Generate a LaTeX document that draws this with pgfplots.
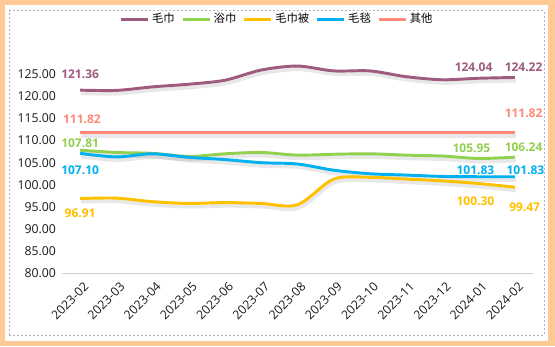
\documentclass[border=0pt]{standalone}
\usepackage{pgfplots}
\pgfplotsset{compat=1.18}
\usepackage{pgfplotstable}
\usepackage{fontspec}
\setmainfont{Open Sans}
\newfontfamily\cjk{Noto Sans CJK SC}
\definecolor{cMJ}{HTML}{9F5B7F}
\definecolor{cYJ}{HTML}{92D050}
\definecolor{cMJB}{HTML}{FFC000}
\definecolor{cMT}{HTML}{00B0F0}
\definecolor{cQT}{HTML}{FF8978}
\definecolor{frameor}{HTML}{FFC996}
\pgfplotstableread{
idx mj yj mjb mt qt
0 121.36 107.81 96.91 107.10 111.82
1 121.3 107.3 97.0 106.3 111.82
2 122.1 107.1 96.2 107.0 111.82
3 122.7 106.4 95.8 106.2 111.82
4 123.6 107.0 96.0 105.7 111.82
5 125.9 107.3 95.8 105.0 111.82
6 126.8 106.7 95.5 104.7 111.82
7 125.7 106.9 101.3 103.3 111.82
8 125.7 107.0 101.7 102.5 111.82
9 124.4 106.7 101.3 102.2 111.82
10 123.7 106.5 100.9 101.9 111.82
11 124.04 105.95 100.30 101.83 111.82
12 124.22 106.24 99.47 101.83 111.82
}\datatable
\begin{document}
\begin{tikzpicture}
% frame (px -> 0.75pt, y flipped)
\fill[frameor] (0pt,0pt) rectangle (416.25pt,259.5pt);
\fill[white] (3.75pt,3.75pt) rectangle (411pt,255.75pt);
\draw[black!30,dashed,line width=0.6pt,dash pattern=on 1.5pt off 1.5pt] (7.1pt,8.25pt) rectangle (408pt,251.55pt);
\begin{axis}[
  at={(46.5pt,54.375pt)}, anchor=south west,
  scale only axis, width=353.25pt, height=166.24pt,
  xmin=-0.5, xmax=12.5, ymin=80, ymax=130,
  clip=false,
  axis line style={draw=none},
  ytick={80,85,...,125},
  yticklabels={80.00,85.00,90.00,95.00,100.00,105.00,110.00,115.00,120.00,125.00},
  xtick={0,...,12},
  xticklabels={2023-02,2023-03,2023-04,2023-05,2023-06,2023-07,2023-08,2023-09,2023-10,2023-11,2023-12,2024-01,2024-02},
  x tick label style={anchor=east, xshift=7pt, yshift=-6pt, rotate=45, font=\fontsize{9.2pt}{10pt}\selectfont, text=black!90},
  y tick label style={font=\fontsize{9.2pt}{10pt}\selectfont, text=black!90, xshift=-1pt},
  major tick length=0pt,
  tick style={draw=none},
  legend columns=5,
  legend style={at={(axis description cs:0.4575,1.148)}, anchor=center, draw=none, fill=none,
    font=\cjk\fontsize{8.5pt}{10pt}\selectfont, inner sep=0pt,
    /tikz/every even column/.append style={column sep=3pt}},
  legend cell align=left,
  legend image code/.code={\draw[line width=2.2pt] (0pt,0pt) -- (20pt,0pt);},
]
\draw[black!18, line width=0.8pt] (axis cs:-0.5,80) -- (axis cs:12.5,80);
% shadows
\foreach \c in {mj,yj,mjb,mt,qt}{
  \addplot[gray, opacity=0.18, line width=2.8pt, smooth, forget plot, yshift=-2.4pt, xshift=0.8pt] table[x=idx,y=\c] {\datatable};
}
\addplot[cMJ, line width=2.2pt, smooth] table[x=idx,y=mj] {\datatable};
\addlegendentry{毛巾}
\addplot[cYJ, line width=2.2pt, smooth] table[x=idx,y=yj] {\datatable};
\addlegendentry{浴巾}
\addplot[cMJB, line width=2.2pt, smooth] table[x=idx,y=mjb] {\datatable};
\addlegendentry{毛巾被}
\addplot[cMT, line width=2.2pt, smooth] table[x=idx,y=mt] {\datatable};
\addlegendentry{毛毯}
\addplot[cQT, line width=2.2pt, smooth] table[x=idx,y=qt] {\datatable};
\addlegendentry{其他}
% data labels
\begin{scope}[every node/.style={font=\bfseries\fontsize{9pt}{10pt}\selectfont, inner sep=0pt}]
\node[text=cMJ] at (axis cs:0,125.0) {121.36};
\node[text=cMJ] at (axis cs:10.86,126.58) {124.04};
\node[text=cMJ] at (axis cs:12.24,126.58) {124.22};
\node[text=cQT] at (axis cs:0.05,114.78) {111.82};
\node[text=cQT] at (axis cs:12.24,116.2) {111.82};
\node[text=cYJ] at (axis cs:0,109.37) {107.81};
\node[text=cYJ] at (axis cs:10.8,108.31) {105.95};
\node[text=cYJ] at (axis cs:12.24,108.54) {106.24};
\node[text=cMT] at (axis cs:0,103.35) {107.10};
\node[text=cMT] at (axis cs:10.91,103.35) {101.83};
\node[text=cMT] at (axis cs:12.29,103.35) {101.83};
\node[text=cMJB] at (axis cs:0,93.58) {96.91};
\node[text=cMJB] at (axis cs:10.91,96.2) {100.30};
\node[text=cMJB] at (axis cs:12.27,94.93) {99.47};
\end{scope}
\end{axis}
\pgfresetboundingbox
\useasboundingbox (0pt,0pt) rectangle (416.25pt,259.5pt);
\end{tikzpicture}
\end{document}
